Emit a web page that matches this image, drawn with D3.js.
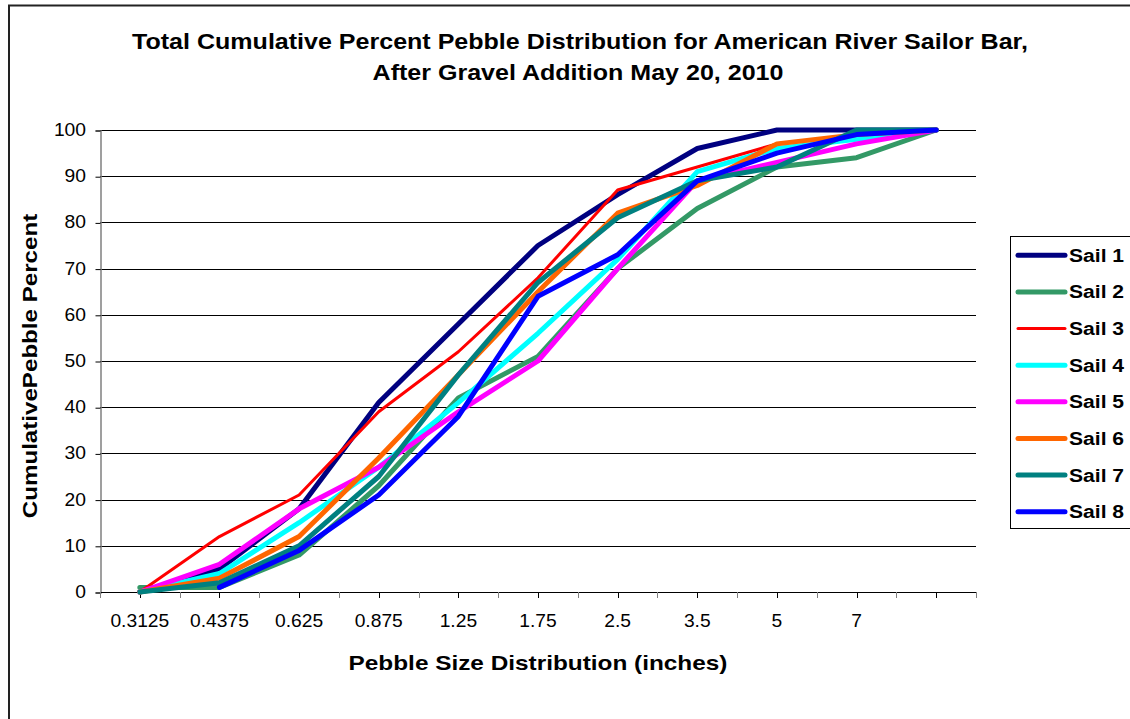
<!DOCTYPE html>
<html>
<head>
<meta charset="utf-8">
<script src="https://cdn.jsdelivr.net/npm/d3@7/dist/d3.min.js"></script>
<style>
  html, body { margin: 0; padding: 0; background: #fff; }
  svg { display: block; font-family: "Liberation Sans", Arial, sans-serif; }
</style>
</head>
<body>
<svg id="chart" width="1130" height="719"></svg>
<script>
// Pebble size classes (inches); the last class carries no label
const sizeClasses = ["0.3125", "0.4375", "0.625", "0.875", "1.25", "1.75", "2.5", "3.5", "5", "7", ""];

// Cumulative percent finer, per sampling site
const sail1 = [0, 5, 18, 41, 58, 75, 86, 96, 100, 100, 100];
const sail2 = [1, 1, 8, 23, 42, 51, 70, 83, 92, 94, 100];
const sail3 = [0, 12, 21, 39, 52, 68, 87, 92, 97, 99, 100];
const sail4 = [0, 4, 15, 27, 41, 56, 72, 91, 96, 98, 100];
const sail5 = [0, 6, 18, 27, 39, 50, 70, 89, 93, 97, 100];
const sail6 = [0, 3, 12, 29, 47, 65, 82, 88, 97, 99, 100];
const sail7 = [0, 2, 10, 25, 47, 67, 81, 89, 92, 100, 100];
const sail8 = [null, 1, 9, 21, 38, 64, 73, 89, 95, 99, 100];

const seriesNames = ["Sail 1", "Sail 2", "Sail 3", "Sail 4", "Sail 5", "Sail 6", "Sail 7", "Sail 8"];
const seriesValues = [sail1, sail2, sail3, sail4, sail5, sail6, sail7, sail8];

const yTicks = [0, 10, 20, 30, 40, 50, 60, 70, 80, 90, 100];

const colors = ["#000080", "#339966", "#FF0000", "#00FFFF", "#FF00FF", "#FF6600", "#008080", "#0000FF"];
const widths = [5, 5, 3, 5, 5, 5, 5, 5];

const svg = d3.select("#chart");

// Text placed at (x, y) and widened horizontally by sx
function wideText(parent, x, y, sx, size, weight, anchor, str, rotate) {
  const t = parent.append("text")
    .attr("transform", `translate(${x},${y})${rotate ? " rotate(-90)" : ""} scale(${sx},1)`)
    .attr("text-anchor", anchor)
    .attr("font-size", size)
    .attr("font-weight", weight)
    .attr("fill", "#000")
    .text(str);
  return t;
}

// Outer chart border (open at the right and bottom edges of the page)
svg.append("path")
  .attr("d", "M9,725 L9,5.5 L1140,5.5")
  .attr("fill", "none")
  .attr("stroke", "#222")
  .attr("stroke-width", 2);

const plot = { left: 100, right: 976, top: 130, bottom: 592 };

const x = d3.scaleBand()
  .domain(d3.range(sizeClasses.length))
  .range([plot.left, plot.right])
  .paddingInner(0).paddingOuter(0);

const y = d3.scaleLinear()
  .domain([0, 100])
  .range([plot.bottom, plot.top]);

// Horizontal gridlines
svg.append("g")
  .selectAll("line")
  .data(yTicks.filter(d => d > 0))
  .join("line")
  .attr("x1", plot.left).attr("x2", plot.right)
  .attr("y1", d => Math.round(y(d)) + 0.5).attr("y2", d => Math.round(y(d)) + 0.5)
  .attr("stroke", "#000")
  .attr("stroke-width", 1);

// Y axis
const yAxis = svg.append("g")
  .attr("transform", `translate(${plot.left + 0.5},0.5)`)
  .call(d3.axisLeft(y).tickValues(yTicks).tickSize(5).tickFormat(() => ""));
yAxis.select(".domain").attr("stroke", "#808080").attr("stroke-width", 1.5);
yAxis.selectAll(".tick line").attr("stroke", "#000");
const yLabels = svg.append("g");
yTicks.forEach(v => {
  wideText(yLabels, 86, y(v) + 6, 1.1, 17.5, "normal", "end", String(v));
});

// X axis: ticks at each half class, labels at class centres
const half = x.bandwidth() / 2;
const xTickPos = d3.range(sizeClasses.length * 2 + 1).map(i => plot.left + i * half);
const xAxisG = svg.append("g");
xAxisG.append("line")
  .attr("x1", plot.left).attr("x2", plot.right)
  .attr("y1", plot.bottom + 0.5).attr("y2", plot.bottom + 0.5)
  .attr("stroke", "#000").attr("stroke-width", 1.2);
xAxisG.selectAll("line.tk")
  .data(xTickPos)
  .join("line")
  .attr("class", "tk")
  .attr("x1", d => Math.round(d) + 0.5).attr("x2", d => Math.round(d) + 0.5)
  .attr("y1", plot.bottom).attr("y2", plot.bottom + 6)
  .attr("stroke", (d, i) => i % 2 === 0 ? "#808080" : "#000")
  .attr("stroke-width", 1);
sizeClasses.forEach((s, i) => {
  wideText(xAxisG, x(i) + half, 627, 1.1, 17.5, "normal", "middle", s);
});

// Series lines
const line = d3.line()
  .defined(d => d.v !== null)
  .x(d => x(d.i) + half)
  .y(d => y(d.v));

svg.append("g")
  .selectAll("path")
  .data(seriesValues.map((vals, k) => ({ k, pts: vals.map((v, i) => ({ i, v })) })))
  .join("path")
  .attr("d", d => line(d.pts))
  .attr("fill", "none")
  .attr("stroke", d => colors[d.k])
  .attr("stroke-width", d => widths[d.k])
  .attr("stroke-linejoin", "round")
  .attr("stroke-linecap", "round");

// Title
wideText(svg, 580, 49, 1.165, 21.5, "bold", "middle",
  "Total Cumulative Percent Pebble Distribution for American River Sailor Bar,");
wideText(svg, 578, 80, 1.165, 21.5, "bold", "middle", "After Gravel Addition May 20, 2010");

// Axis titles
wideText(svg, 538, 670, 1.16, 21, "bold", "middle", "Pebble Size Distribution (inches)");
wideText(svg, 37, 366, 1.15, 21, "bold", "middle", "CumulativePebble Percent", true);

// Legend
const legend = svg.append("g");
legend.append("rect")
  .attr("x", 1010.5).attr("y", 236.5)
  .attr("width", 140).attr("height", 292)
  .attr("fill", "#fff")
  .attr("stroke", "#000")
  .attr("stroke-width", 1);

const rowY = d3.scaleBand()
  .domain(d3.range(seriesNames.length))
  .range([237, 530]);

seriesNames.forEach((name, i) => {
  const cy = rowY(i) + rowY.bandwidth() / 2;
  legend.append("line")
    .attr("x1", 1018).attr("x2", 1065)
    .attr("y1", cy).attr("y2", cy)
    .attr("stroke", colors[i])
    .attr("stroke-width", widths[i])
    .attr("stroke-linecap", "round");
  wideText(legend, 1069, cy + 6.5, 1.14, 18.5, "bold", "start", name);
});
</script>
</body>
</html>
